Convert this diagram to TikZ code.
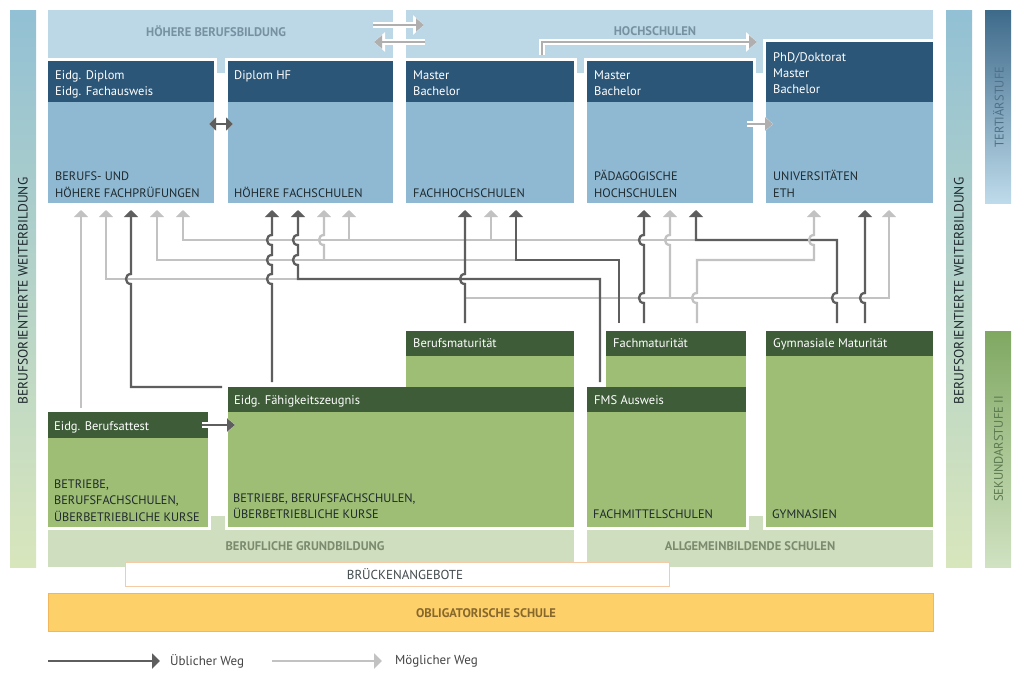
\documentclass[tikz,border=0pt]{standalone}
\usepackage{fontspec}
\setmainfont{PT Sans}
\usetikzlibrary{arrows.meta}
\definecolor{hdrblue}{HTML}{2B5677}
\definecolor{bodyblue}{HTML}{8FB9D3}
\definecolor{bandblue}{HTML}{BCD8E6}
\definecolor{hdrgreen}{HTML}{3E5C38}
\definecolor{bodygreen}{HTML}{9EBD75}
\definecolor{bandgreen}{HTML}{CFDEBE}
\definecolor{oblig}{HTML}{FDD06A}
\definecolor{obligline}{HTML}{F2B75A}
\definecolor{bridgeline}{HTML}{F4CBA6}
\definecolor{usualc}{HTML}{5E5E5E}
\definecolor{possc}{HTML}{C2C2C2}
\definecolor{bandtxtb}{HTML}{7891A2}
\definecolor{bandtxtg}{HTML}{7A8B6E}
\definecolor{obligtxt}{HTML}{86672C}
\definecolor{bodytxt}{HTML}{1F2A2E}
\definecolor{tertxt}{HTML}{4F7188}
\definecolor{sektxt}{HTML}{5C7A50}
\definecolor{legtxt}{HTML}{444444}
\definecolor{sideTop}{RGB}{146,192,212}
\definecolor{sideBot}{RGB}{216,230,188}
\definecolor{terTop}{RGB}{62,106,138}
\definecolor{terMid}{RGB}{156,194,215}
\definecolor{terBot}{RGB}{190,219,235}
\definecolor{sekTop}{RGB}{128,168,98}
\definecolor{sekMid}{RGB}{178,206,162}
\definecolor{sekBot}{RGB}{208,226,194}
\begin{document}
\begin{tikzpicture}[x=1pt,y=-1pt,
  boxb/.style={anchor=north west, fill=bodyblue, inner sep=0, outer sep=0},
  hdrb/.style={anchor=north west, fill=hdrblue, inner sep=0, outer sep=0},
  boxg/.style={anchor=north west, fill=bodygreen, inner sep=0, outer sep=0},
  hdrg/.style={anchor=north west, fill=hdrgreen, inner sep=0, outer sep=0},
  htxt/.style={anchor=base west, inner sep=0, text=white, font=\fontsize{12.5}{15}\selectfont},
  btxt/.style={anchor=base west, inner sep=0, text=bodytxt, font=\fontsize{12.3}{15}\selectfont},
  bandtitle/.style={inner sep=0, font=\bfseries\fontsize{12.5}{15}\selectfont},
  vlab/.style={rotate=90, inner sep=0, font=\fontsize{13.5}{16}\selectfont},
  usual/.style={draw=usualc, line width=2.3pt, -{Triangle[width=14pt,length=7pt]}},
  poss/.style={draw=possc, line width=2.3pt, -{Triangle[width=14pt,length=7pt]}},
  halolight/.style={draw=possc!90!black, line width=2.6pt, -{Triangle[width=13pt,length=8pt]},
     preaction={draw=white, line width=5.5pt, -{Triangle[width=19pt,length=11pt]}}},
  halodark/.style={draw=usualc, line width=2.6pt, -{Triangle[width=13pt,length=8pt]},
     preaction={draw=white, line width=5.5pt, -{Triangle[width=19pt,length=11pt]}}},
  halodarkboth/.style={draw=usualc, line width=2.6pt, {Triangle[width=13pt,length=7pt]}-{Triangle[width=13pt,length=7pt]},
     preaction={draw=white, line width=5.5pt, {Triangle[width=19pt,length=10pt]}-{Triangle[width=19pt,length=10pt]}}}
]
\useasboundingbox (0,0) rectangle (1024,680);
\fill[white] (0,0) rectangle (1024,680);

% side bars
\shade[top color=sideTop, bottom color=sideBot] (10,10) rectangle (36,567);
\shade[top color=sideTop, bottom color=sideBot] (946,10) rectangle (972,567);
\shade[top color=terTop, middle color=terMid, bottom color=terBot] (985,10) rectangle (1011,203);
\shade[top color=sekTop, middle color=sekMid, bottom color=sekBot] (985,331) rectangle (1011,567);
\node[vlab, text=bodytxt] (wbL) at (23,291) {BERUFSORIENTIERTE WEITERBILDUNG};
\node[vlab, text=bodytxt] (wbR) at (959,291) {BERUFSORIENTIERTE WEITERBILDUNG};
\node[vlab, text=tertxt, font=\fontsize{12.5}{14}\selectfont] (ter) at (998.5,107) {TERTIÄRSTUFE};
\node[vlab, text=sektxt, font=\fontsize{12.5}{14}\selectfont] (sek) at (998.5,449) {SEKUNDARSTUFE II};

% bands
\fill[bandblue] (48,10) rectangle (393,73);
\fill[bandblue] (406,10) rectangle (933,73);
\fill[bandgreen] (48,516) rectangle (574,567);
\fill[bandgreen] (587,516) rectangle (933,567);
\node[bandtitle, text=bandtxtb] (hbb) at (216,31) {HÖHERE BERUFSBILDUNG};
\node[bandtitle, text=bandtxtb] (hs) at (655,31) {HOCHSCHULEN};
\node[bandtitle, text=bandtxtg] (bg) at (305,546) {BERUFLICHE GRUNDBILDUNG};
\node[bandtitle, text=bandtxtg] (as) at (750,546) {ALLGEMEINBILDENDE SCHULEN};

% white frames
\foreach \a/\b/\c/\d in {48/61/214/203, 228/61/393/203, 406/61/574/203, 587/61/753/203, 766/42/933/203,
   406/331/574/387, 228/387/574/527, 48/412/208/527, 606/331/746/387, 587/387/746/527, 766/331/933/527}
   \fill[white] (\a-3,\b-3) rectangle (\c+3,\d+3);

% tertiary boxes
\node[boxb, minimum width=166pt, minimum height=142pt] (A) at (48,61) {};
\node[hdrb, minimum width=166pt, minimum height=41pt] (Ah) at (48,61) {};
\node[boxb, minimum width=165pt, minimum height=142pt] (B) at (228,61) {};
\node[hdrb, minimum width=165pt, minimum height=41pt] (Bh) at (228,61) {};
\node[boxb, minimum width=168pt, minimum height=142pt] (C) at (406,61) {};
\node[hdrb, minimum width=168pt, minimum height=41pt] (Ch) at (406,61) {};
\node[boxb, minimum width=166pt, minimum height=142pt] (D) at (587,61) {};
\node[hdrb, minimum width=166pt, minimum height=41pt] (Dh) at (587,61) {};
\node[boxb, minimum width=167pt, minimum height=161pt] (E) at (766,42) {};
\node[hdrb, minimum width=167pt, minimum height=60pt] (Eh) at (766,42) {};

\node[htxt] (At1) at (55,79) {Eidg. Diplom};
\node[htxt] (At2) at (55,95) {Eidg. Fachausweis};
\node[htxt] (Bt1) at (234,79) {Diplom HF};
\node[htxt] (Ct1) at (413,79) {Master};
\node[htxt] (Ct2) at (413,95) {Bachelor};
\node[htxt] (Dt1) at (594,79) {Master};
\node[htxt] (Dt2) at (594,95) {Bachelor};
\node[htxt] (Et1) at (773,61) {PhD/Doktorat};
\node[htxt] (Et2) at (773,77) {Master};
\node[htxt] (Et3) at (773,93) {Bachelor};

\node[btxt] (Ab1) at (55,180) {BERUFS- UND};
\node[btxt] (Ab2) at (55,197) {HÖHERE FACHPRÜFUNGEN};
\node[btxt] (Bb1) at (234,197) {HÖHERE FACHSCHULEN};
\node[btxt] (Cb1) at (413,197) {FACHHOCHSCHULEN};
\node[btxt] (Db1) at (594,180) {PÄDAGOGISCHE};
\node[btxt] (Db2) at (594,197) {HOCHSCHULEN};
\node[btxt] (Eb1) at (773,180) {UNIVERSITÄTEN};
\node[btxt] (Eb2) at (773,197) {ETH};

% secondary boxes
\node[boxg, minimum width=168pt, minimum height=60pt] (BM) at (406,331) {};
\node[hdrg, minimum width=168pt, minimum height=25pt] (BMh) at (406,331) {};
\node[boxg, minimum width=140pt, minimum height=60pt] (FM) at (606,331) {};
\node[hdrg, minimum width=140pt, minimum height=25pt] (FMh) at (606,331) {};
\node[boxg, minimum width=346pt, minimum height=140pt] (FZ) at (228,387) {};
\node[hdrg, minimum width=346pt, minimum height=25pt] (FZh) at (228,387) {};
\node[boxg, minimum width=160pt, minimum height=115pt] (BA) at (48,412) {};
\node[hdrg, minimum width=160pt, minimum height=26pt] (BAh) at (48,412) {};
\node[boxg, minimum width=159pt, minimum height=140pt] (FMS) at (587,387) {};
\node[hdrg, minimum width=159pt, minimum height=25pt] (FMSh) at (587,387) {};
\node[boxg, minimum width=167pt, minimum height=196pt] (GY) at (766,331) {};
\node[hdrg, minimum width=167pt, minimum height=25pt] (GYh) at (766,331) {};

\node[htxt] (BMt) at (413,347) {Berufsmaturität};
\node[htxt] (FMt) at (613,347) {Fachmaturität};
\node[htxt] (GYt) at (773,347) {Gymnasiale Maturität};
\node[htxt] (FZt) at (234,404) {Eidg. Fähigkeitszeugnis};
\node[htxt] (FMSt) at (594,404) {FMS Ausweis};
\node[htxt] (BAt) at (54,430) {Eidg. Berufsattest};

\node[btxt] (BAb1) at (54,488) {BETRIEBE,};
\node[btxt] (BAb2) at (54,504) {BERUFSFACHSCHULEN,};
\node[btxt] (BAb3) at (54,521) {ÜBERBETRIEBLICHE KURSE};
\node[btxt] (FZb1) at (233,502) {BETRIEBE, BERUFSFACHSCHULEN,};
\node[btxt] (FZb2) at (233,518) {ÜBERBETRIEBLICHE KURSE};
\node[btxt] (FMSb) at (593,518) {FACHMITTELSCHULEN};
\node[btxt] (GYb) at (772,518) {GYMNASIEN};

% bridge and compulsory school
\node[anchor=north west, minimum width=544pt, minimum height=24pt, fill=white, draw=bridgeline, line width=0.8pt, inner sep=0] (BR) at (125,562) {};
\node[inner sep=0, text=bodytxt!85, font=\fontsize{13}{15}\selectfont] (BRt) at (405,574) {BRÜCKENANGEBOTE};
\node[anchor=north west, minimum width=885pt, minimum height=38pt, fill=oblig, draw=obligline, line width=0.8pt, inner sep=0] (OS) at (48,593) {};
\node[bandtitle, text=obligtxt, font=\bfseries\fontsize{12.5}{15}\selectfont] (OSt) at (486,613) {OBLIGATORISCHE SCHULE};

% arrows within tertiary level
\draw[halolight] (373,25) -- (424,25);
\draw[halolight] (425,42) -- (374,42);
\draw[halolight] (542,55) -- (542,42) -- (757,42);
\draw[halolight] (747,124) -- (773,124);
\draw[halodarkboth] (209,124) -- (233,124);
\draw[halodark] (202,425) -- (235,425);

% possible paths (light)
\draw[poss] (81,408) -- (81,210);
\draw[poss] (696,240) -- (183,240) -- (183,210);
\draw[poss] (349,240) -- (349,210);
\draw[poss] (491,240) -- (491,210);
\draw[poss] (516,260) -- (157,260) -- (157,210);
\draw[poss] (324,260) -- (324,245) .. controls (317.3,245) and (317.3,235) .. (324,235) -- (324,210);
\draw[poss] (298,279) -- (106,279) -- (106,210);
\draw[poss] (465,298) -- (889,298) -- (889,210);
\draw[poss] (670,298) -- (670,245) .. controls (663.3,245) and (663.3,235) .. (670,235) -- (670,210);

% usual paths (dark)
\draw[usual] (222,387) -- (131,387) -- (131,284) .. controls (124.3,284) and (124.3,274) .. (131,274) -- (131,210);
\draw[usual] (272,382) -- (272,284) .. controls (265.3,284) and (265.3,274) .. (272,274) -- (272,265) .. controls (265.3,265) and (265.3,255) .. (272,255) -- (272,245) .. controls (265.3,245) and (265.3,235) .. (272,235) -- (272,210);
\draw[usual] (600,382) -- (600,279) -- (298,279) -- (298,265) .. controls (291.3,265) and (291.3,255) .. (298,255) -- (298,245) .. controls (291.3,245) and (291.3,235) .. (298,235) -- (298,210);
\draw[usual] (465,323) -- (465,284) .. controls (458.3,284) and (458.3,274) .. (465,274) -- (465,210);
\draw[usual] (619,323) -- (619,260) -- (516,260) -- (516,210);
\draw[usual] (644,323) -- (644,303) .. controls (637.3,303) and (637.3,293) .. (644,293) -- (644,245) .. controls (637.3,245) and (637.3,235) .. (644,235) -- (644,210);
\draw[usual] (837,323) -- (837,303) .. controls (830.3,303) and (830.3,293) .. (837,293) -- (837,240) -- (696,240) -- (696,210);
\draw[usual] (865,323) -- (865,303) .. controls (858.3,303) and (858.3,293) .. (865,293) -- (865,210);
\draw[poss] (697,323) -- (697,303) .. controls (690.3,303) and (690.3,293) .. (697,293) -- (697,260) -- (814,260) -- (814,245) .. controls (807.3,245) and (807.3,235) .. (814,235) -- (814,210);

% legend
\coordinate (lg1a) at (48,661);
\coordinate (lg1b) at (160,661);
\coordinate (lg2a) at (272,661);
\coordinate (lg2b) at (382,661);
\draw[usual, -{Triangle[width=15pt,length=8pt]}] (lg1a) -- (lg1b);
\node[anchor=west, inner sep=0, text=legtxt, font=\fontsize{13}{15}\selectfont] (lgt1) at (170,661) {Üblicher Weg};
\draw[poss, -{Triangle[width=15pt,length=8pt]}] (lg2a) -- (lg2b);
\node[anchor=west, inner sep=0, text=legtxt, font=\fontsize{13}{15}\selectfont] (lgt2) at (395,661) {Möglicher Weg};
\end{tikzpicture}
\end{document}
